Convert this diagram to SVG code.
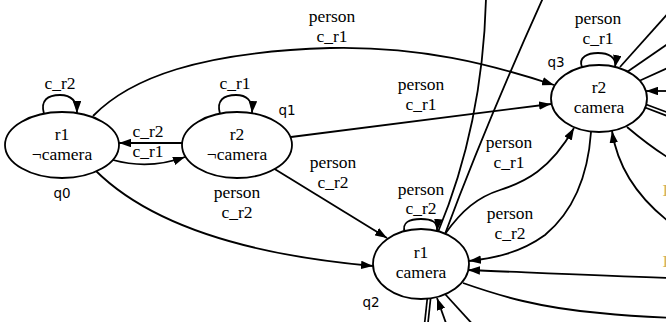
<svg xmlns="http://www.w3.org/2000/svg" width="666" height="322" viewBox="0 0 666 322">
<defs>
<marker id="ah" viewBox="0 0 12 8.5" refX="12" refY="4.25" markerWidth="12" markerHeight="8.5" markerUnits="userSpaceOnUse" orient="auto"><path d="M0,0 L12,4.25 L0,8.5 z" fill="#000"/></marker>
<style>
.e{fill:none;stroke:#000;stroke-width:1.8}
.a{marker-end:url(#ah)}
.dbl{fill:none;stroke:#000;stroke-width:5}
.dbw{fill:none;stroke:#fff;stroke-width:1.6}
.n{fill:#fff;stroke:#000;stroke-width:1.8}
.t{font-family:"Liberation Serif","Times New Roman",serif;font-size:17.5px;text-anchor:middle;fill:#000}
.q{font-family:"DejaVu Sans",sans-serif;font-size:13.5px;text-anchor:middle;fill:#000}
.y{font-family:"Liberation Serif",serif;font-size:17.5px;fill:#d2b05a}
</style>
</defs>
<rect width="666" height="322" fill="#fff"/>
<g id="connectors">
<path class="e a" d="M44,114 C40,100 48,95 60,95 C70,95 77,100 77,113"/>
<path class="e a" d="M220,114 C216,100 224,95 236,95 C246,95 253,100 252,113"/>
<path class="e a" d="M182,143 L119,143"/>
<path class="e a" d="M113,160 C135,166 160,166 185,157"/>
<path class="e a" d="M93,116 C130,78 200,52 330,48 C420,46 490,64 554,85"/>
<path class="e a" d="M291,137 L551,104"/>
<path class="e a" d="M273,168 L387,238"/>
<path class="e a" d="M95,170 C150,225 250,255 373,266"/>
<path class="e a" d="M405,233 C401,222 410,219 421,219 C432,219 438,222 437,231"/>
<path class="e a" d="M582,67 C578,57 588,53 598,53 C608,53 617,57 615,67"/>
<path class="e a" d="M445,234 C462,210 478,197 500,190 C525,182 550,170 574,128"/>
<path class="e a" d="M591,132 C588,175 575,210 545,235 C520,253 495,258 469,261"/>
<path class="e" d="M486,-2 C484,80 468,160 438,232"/>
<path class="e" d="M543,-2 C515,60 480,140 445,234"/>
<path class="e" d="M620,67 L672,9"/>
<path class="e" d="M627,72 L672,41"/>
<path class="e" d="M639,81 L672,66"/>
<path class="e a" d="M672,91 L646,91"/>
<path class="dbl" d="M643,105 L672,116"/>
<path class="dbw" d="M643,105 L672,116"/>
<path class="e" d="M627,127 C640,138 652,148 672,160"/>
<path class="e a" d="M672,224 C640,200 618,170 612,131"/>
<path class="e a" d="M672,278 C600,276 520,272 468,270"/>
<path class="e" d="M463,283 C500,296 540,308 600,313 C630,316 650,317 672,318"/>
<path class="dbl" d="M429,298 L426,326"/>
<path class="dbw" d="M429,298 L426,326"/>
<path class="e a" d="M447,326 L437,298"/>
<path class="e" d="M445,294 L476,328"/>
</g>
<g id="q0">
<ellipse class="n" cx="62" cy="145" rx="57" ry="33"/>
<text class="t" x="62" y="139.5">r1</text>
<text class="t" x="62" y="159.5">¬camera</text>
<text class="q" x="62" y="198">q0</text>
</g>
<g id="q1">
<ellipse class="n" cx="237" cy="145" rx="55" ry="33"/>
<text class="t" x="237" y="139.5">r2</text>
<text class="t" x="237" y="159.5">¬camera</text>
<text class="q" x="287" y="115">q1</text>
</g>
<g id="q2">
<ellipse class="n" cx="421" cy="264" rx="48" ry="35"/>
<text class="t" x="421" y="258">r1</text>
<text class="t" x="421" y="278">camera</text>
<text class="q" x="371" y="307">q2</text>
</g>
<g id="q3">
<ellipse class="n" cx="599" cy="98.5" rx="48" ry="33.5"/>
<text class="t" x="599" y="93">r2</text>
<text class="t" x="599" y="112.5">camera</text>
<text class="q" x="556" y="67">q3</text>
</g>
<g id="labels">
<text class="t" x="60" y="89">c_r2</text>
<text class="t" x="235" y="89">c_r1</text>
<text class="t" x="148" y="137">c_r2</text>
<text class="t" x="148" y="157">c_r1</text>
<text class="t" x="332" y="22">person</text>
<text class="t" x="332" y="42">c_r1</text>
<text class="t" x="421" y="90">person</text>
<text class="t" x="421" y="110">c_r1</text>
<text class="t" x="333" y="168">person</text>
<text class="t" x="333" y="188">c_r2</text>
<text class="t" x="237" y="198">person</text>
<text class="t" x="237" y="218">c_r2</text>
<text class="t" x="421" y="195">person</text>
<text class="t" x="421" y="214">c_r2</text>
<text class="t" x="598" y="24">person</text>
<text class="t" x="598" y="44">c_r1</text>
<text class="t" x="509" y="148">person</text>
<text class="t" x="509" y="168">c_r1</text>
<text class="t" x="510" y="219">person</text>
<text class="t" x="510" y="239">c_r2</text>
<text class="y" x="662.5" y="196">I</text>
<text class="y" x="662.5" y="267">I</text>
</g>
</svg>
